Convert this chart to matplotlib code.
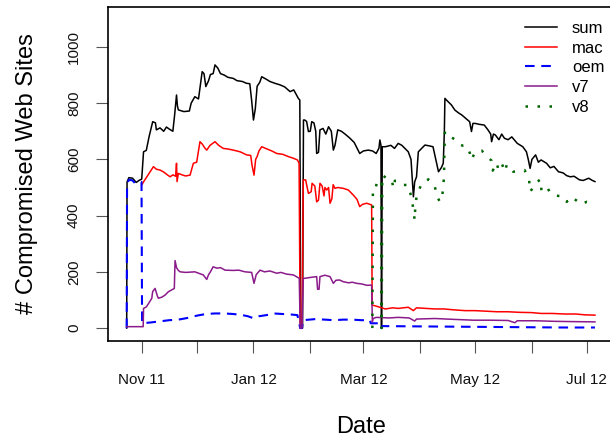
import pandas as pd
import matplotlib
matplotlib.use("Agg")
import matplotlib.pyplot as plt
import matplotlib.dates as mdates
from matplotlib.ticker import FuncFormatter

plt.rcParams["font.family"] = ["Liberation Sans", "DejaVu Sans"]

# ------------------------------------------------------
# Data: days since 2011-11-01 and counts
# ------------------------------------------------------
start = pd.Timestamp("2011-11-01")

sum_days = [-8.2, -8.0, -7.0, -5.0, -3.0, -1.5, 0.0, 1.0, 2.5, 4.0, 6.0, 7.5, 8.0, 10.0,
            12.0, 13.5, 15.0, 17.0, 18.0, 19.0, 19.5, 20.0, 23.0, 26.0, 27.0, 29.0, 31.0,
            33.0, 34.0, 35.0, 36.5, 37.5, 39.0, 40.0, 41.5, 43.0, 45.0, 47.0, 50.0, 52.0,
            55.0, 57.0, 59.0, 60.0, 61.0, 62.0, 63.0, 64.5, 65.5, 68.0, 70.0, 73.0, 75.5,
            78.0, 81.0, 83.0, 85.5, 86.3, 86.8, 87.8, 88.3, 89.0, 90.0, 91.0, 92.0, 92.8,
            94.0, 95.0, 95.5, 96.5, 97.3, 99.0, 100.5, 102.0, 103.5, 104.6, 105.5, 107.0,
            109.0, 111.0, 113.7, 116.0, 119.0, 121.0, 123.7, 126.0, 128.0, 129.5, 130.0,
            130.6, 130.9, 131.3, 133.0, 136.0, 138.0, 140.0, 142.0, 145.5, 147.0, 148.3,
            149.0, 150.0, 151.0, 154.6, 157.0, 159.0, 160.5, 162.0, 163.5, 164.6, 165.2,
            165.5, 166.5, 169.0, 171.0, 173.0, 174.7, 177.0, 179.0, 180.0, 180.8, 182.0,
            184.0, 187.0, 189.0, 190.5, 191.0, 192.0, 193.0, 195.0, 196.5, 198.0, 200.0,
            202.0, 205.0, 208.0, 210.0, 211.0, 212.0, 213.0, 215.0, 216.5, 218.0, 221.0,
            223.0, 225.0, 227.5, 230.0, 232.0, 234.0, 236.0, 239.0, 241.0, 244.0, 246.0,
            247.4]
sum_vals = [0, 520, 535, 533, 518, 525, 530, 627, 632, 680, 734, 730, 705, 712,
            700, 715, 708, 700, 760, 829, 790, 776, 770, 772, 800, 823, 815,
            912, 905, 859, 880, 902, 905, 936, 925, 905, 900, 892, 888, 880,
            877, 871, 869, 810, 740, 780, 860, 875, 894, 885, 877, 870, 865,
            858, 841, 847, 817, 811, 0, 0, 740, 740, 735, 699, 700, 734,
            730, 700, 621, 625, 705, 710, 690, 716, 700, 633, 650, 705,
            700, 690, 675, 660, 621, 630, 633, 630, 621, 640, 669,
            650, 0, 645, 645, 650, 639, 657, 650, 627, 600, 467,
            520, 538, 627, 651, 648, 645, 600, 556, 570, 586, 700,
            817, 810, 794, 775, 765, 758, 745, 734, 699, 728, 728,
            725, 722, 705, 690, 663, 690, 687, 670, 690, 675, 670,
            680, 657, 645, 627, 600, 568, 600, 616, 590, 598, 586,
            570, 575, 556, 552, 542, 538, 540, 527, 525, 533, 525,
            521]

mac_days = [0.0, 1.0, 3.0, 4.5, 6.4, 8.0, 10.0, 12.0, 14.0, 15.5, 17.0, 18.5, 19.0, 19.3,
            20.0, 22.0, 24.0, 26.4, 27.5, 28.2, 30.0, 31.8, 33.0, 34.5, 35.5, 37.3, 40.0,
            42.0, 44.5, 47.0, 50.0, 53.7, 57.3, 59.5, 60.2, 61.3, 62.2, 63.0, 64.0, 65.5,
            68.0, 71.0, 73.7, 77.0, 80.0, 82.8, 85.0, 85.9, 86.5, 87.5, 88.2, 89.5, 90.0,
            91.0, 92.5, 93.0, 94.5, 95.5, 96.5, 97.3, 98.5, 99.5, 100.0, 101.0, 102.0,
            102.8, 103.8, 104.5, 105.5, 107.0, 110.0, 112.8, 115.5, 117.5, 119.0, 120.5,
            122.8, 125.5, 125.8, 128.0, 133.0, 137.0, 140.0, 145.5, 148.3, 150.0, 155.0,
            160.0, 165.0, 170.0, 176.5, 182.0, 188.0, 194.0, 200.0, 206.0, 212.9, 218.0,
            224.0, 231.0, 237.0, 242.0, 247.4]
mac_vals = [509, 520, 540, 555, 574, 565, 562, 555, 545, 538, 545, 540, 586, 521,
            550, 545, 541, 544, 570, 586, 590, 663, 655, 640, 633, 650, 663,
            650, 639, 637, 633, 627, 616, 614, 580, 544, 600, 610, 630, 645,
            638, 630, 621, 618, 610, 604, 598, 586, 0, 0, 527, 527, 510,
            479, 485, 515, 505, 449, 455, 515, 505, 470, 500, 491, 500,
            444, 460, 510, 497, 500, 497, 491, 473, 458, 432, 440,
            444, 438, 82, 78, 68, 72, 70, 74, 62, 72, 70,
            68, 68, 65, 62, 62, 60, 58, 58, 56, 55, 52,
            52, 50, 50, 47, 46]

oem_days = [-8.2, -8.0, -7.0, -5.0, -3.6, -1.0, -0.1, 0.2, 5.0, 10.0, 15.0, 20.0, 25.0,
            30.0, 35.0, 40.0, 45.0, 50.0, 55.0, 58.0, 61.0, 64.0, 68.0, 72.0, 77.0, 82.0,
            85.0, 86.5, 87.5, 88.0, 95.0, 100.0, 105.0, 110.0, 115.0, 120.0, 124.6, 125.0,
            130.0, 130.8, 131.4, 150.0, 170.0, 190.0, 210.0, 230.0, 247.4]
oem_vals = [0, 509, 528, 525, 515, 520, 520, 17, 20, 24, 28, 30, 36,
            44, 50, 52, 52, 50, 46, 42, 35, 42, 46, 52, 50, 48,
            46, 0, 0, 28, 32, 30, 28, 30, 30, 28, 28, 17,
            17, 0, 7, 6, 5, 4, 3, 2, 2]

v7_days = [-8.2, 0.8, 1.0, 2.5, 4.0, 5.5, 6.0, 7.3, 8.5, 9.1, 11.0, 12.7, 14.5, 17.8,
           18.2, 19.0, 20.0, 21.0, 24.0, 29.0, 33.6, 35.5, 36.5, 37.5, 39.0, 41.0, 43.0,
           45.5, 50.0, 53.0, 56.4, 60.0, 61.3, 62.5, 64.6, 67.0, 70.0, 73.7, 76.0, 79.0,
           82.8, 86.0, 86.5, 87.5, 88.2, 89.0, 92.0, 95.5, 96.0, 96.8, 97.3, 100.0, 102.8,
           104.6, 106.0, 108.0, 110.0, 112.8, 115.0, 117.4, 120.0, 123.0, 125.5, 125.9,
           126.3, 128.0, 135.0, 140.0, 146.0, 149.0, 150.0, 160.0, 170.0, 181.0, 190.0,
           200.0, 203.7, 205.0, 215.0, 225.0, 235.0, 247.4]
v7_vals = [5, 5, 70, 75, 90, 106, 130, 141, 115, 106, 110, 117, 129, 141,
           240, 215, 205, 200, 198, 200, 189, 173, 190, 200, 218, 213, 215,
           206, 205, 206, 200, 198, 159, 190, 206, 200, 203, 195, 198, 192,
           189, 177, 0, 0, 177, 177, 180, 183, 138, 138, 183, 188, 183,
           159, 170, 171, 165, 161, 163, 159, 157, 152, 153, 22,
           34, 38, 36, 38, 36, 25, 32, 34, 31, 28, 28,
           27, 19, 26, 26, 24, 23, 22]

v8_days = [125.9, 126.2, 127.4, 128.3, 130.0, 130.8, 131.0, 131.3, 133.7, 136.5, 137.4,
           138.2, 140.0, 142.8, 145.3, 147.4, 148.3, 149.0, 149.3, 150.0, 152.8, 156.5,
           160.0, 161.0, 162.8, 164.0, 165.0, 165.2, 165.5, 168.3, 171.0, 172.8, 175.6,
           177.4, 179.2, 180.0, 182.0, 185.6, 188.4, 191.0, 191.6, 193.8, 194.6, 196.5,
           198.3, 199.2, 201.4, 202.8, 206.3, 209.0, 210.9, 211.5, 212.0, 213.8, 214.7,
           217.8, 218.2, 221.4, 223.0, 225.6, 227.4, 229.7, 232.0, 234.7, 237.4, 239.8,
           242.9, 246.6]
v8_vals = [0, 491, 491, 515, 527, 527, 0, 544, 533, 527, 497,
           524, 524, 509, 509, 462, 420, 384, 426, 467, 515, 529,
           505, 470, 449, 465, 536, 621, 699, 681, 671, 655, 648,
           648, 621, 598, 627, 631, 612, 595, 560, 588, 565, 586,
           556, 580, 574, 556, 560, 562, 536, 524, 485, 501, 515,
           529, 488, 501, 479, 473, 470, 470, 449, 467, 453, 440,
           449, 446]


def to_dates(days):
    return start + pd.to_timedelta(days, unit="D")


# ------------------------------------------------------
# Figure
# ------------------------------------------------------
fig = plt.figure(figsize=(6.1, 4.4), dpi=100)
ax = fig.add_axes([108 / 610, 99 / 440, 506 / 610, 334 / 440])

ax.plot(to_dates(sum_days), sum_vals, color="black", lw=1.1, label="sum")
ax.plot(to_dates(mac_days), mac_vals, color="#ff0000", lw=1.1, label="mac")
ax.plot(to_dates(oem_days), oem_vals, color="#0000ff", lw=1.5,
        linestyle=(0, (4.6, 3.2)), label="oem")
ax.plot(to_dates(v7_days), v7_vals, color="#8b1a8b", lw=1.1, label="v7")
ax.plot(to_dates(v8_days), v8_vals, color="#006400", lw=1.8,
        linestyle=(0, (1.0, 3.8)), label="v8")

ax.set_xlim(to_dates([-18.4])[0], to_dates([257.8])[0])
ax.set_ylim(-46, 1142)

ax.xaxis.set_major_locator(mdates.MonthLocator())
ax.xaxis.set_major_formatter(FuncFormatter(
    lambda v, pos: mdates.num2date(v).strftime("%b %y")
    if mdates.num2date(v).month in (11, 1, 3, 5, 7) else ""))
ax.set_yticks([0, 200, 400, 600, 800, 1000])

ax.tick_params(axis="both", length=8.5, width=0.8, color="#555555",
               labelsize=11, labelcolor="#111111")
ax.tick_params(axis="x", pad=14.5)
ax.tick_params(axis="y", pad=11)
plt.setp(ax.get_yticklabels(), rotation=90, va="center")

for s in ax.spines.values():
    s.set_linewidth(1.2)

fig.text(27 / 610, 1 - 174 / 440, "# Compromised Web Sites", rotation=90,
         ha="center", va="center", fontsize=17)
fig.text(361 / 610, 1 - 427 / 440, "Date", ha="center", va="center", fontsize=17)

ax.legend(loc="upper left", bbox_to_anchor=(525 / 610, 1 - 21 / 440),
          bbox_transform=fig.transFigure, frameon=False, fontsize=12,
          borderpad=0, borderaxespad=0, handlelength=1.92, handletextpad=0.9,
          labelspacing=0.28)

fig.savefig("out.png", dpi=100)
